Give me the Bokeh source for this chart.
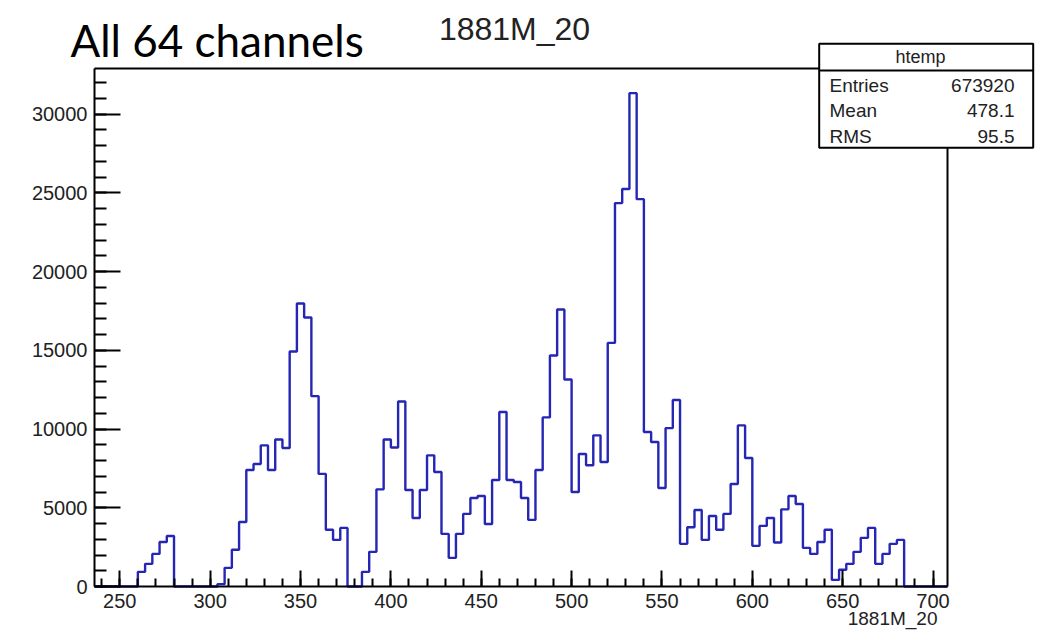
import numpy as np
from bokeh.plotting import figure
from bokeh.models import Range1d, SingleIntervalTicker
from bokeh.core.properties import value
from bokeh.embed import file_html
from bokeh.resources import INLINE

# ---------------- data ----------------
bin_start = 260
bin_width = 4
counts = [
    930, 1440, 2070, 2830, 3210,
    0, 0, 0, 0, 0, 0,
    150,
    1185, 2330, 4100, 7400, 7780, 8960, 7400, 9340, 8800,
    14920, 17970, 17080, 12090, 7150, 3600, 2960, 3720,
    0, 0,
    930, 2200, 6170, 9340,
    8830, 11750, 6130, 4350, 6130, 8330, 7270, 3340, 1820, 3340,
    4610, 5620, 5750, 3970, 6760, 11080, 6760, 6640, 5620, 4230,
    7400, 10740, 14670, 17590, 13150, 6000, 8410, 7700, 9600, 7910, 15470,
    24350, 25240, 31330, 24600,
    9810, 9180, 6260, 10060, 11840, 2710, 3760, 4860, 2960, 4480,
    3600, 4610, 6510, 10230, 8160, 2580, 3850, 4350, 2790, 4900,
    5750, 5240, 2450, 2070, 2830, 3600, 420, 1060, 1440, 2200, 3090, 3720, 1440, 2070, 2710, 2960,
]
x_lo, x_hi = 236, 708
title_text = "1881M_20"
overlay_text = "All 64 channels"
x_title = "1881M_20"
stats_name = "htemp"
stats_labels = ["Entries", "Mean", "RMS"]
stats_values = ["673920", "478.1", "95.5"]

# ---------------- layout ----------------
W, H = 1038, 632
FL, FR, FT, FB = 94, 947, 68, 586          # ROOT frame in pixels
y_top = 1.05 * max(counts)


def dx(px):
    return x_lo + (px - FL) * (x_hi - x_lo) / (FR - FL)


def dy(py):
    return (FB - py) * y_top / (FB - FT)


p = figure(width=W, height=H, output_backend="svg", toolbar_location=None,
           title=None,
           x_range=Range1d(dx(0), dx(W)), y_range=Range1d(dy(H), dy(0)),
           min_border_left=0, min_border_right=0, min_border_top=0,
           min_border_bottom=0)
p.outline_line_color = None
p.grid.visible = False
p.background_fill_color = "white"
p.border_fill_color = "white"

# histogram outline
edges = bin_start + bin_width * np.arange(len(counts) + 1)
xs = np.concatenate([[x_lo], edges, [x_hi]])
ys = np.concatenate([[0], counts, [0, 0]])
p.step(xs, ys, mode="after", line_color="#2626b4", line_width=2.4)

# frame top/right
p.line([x_lo, x_hi, x_hi], [y_top, y_top, 0], line_color="black", line_width=2)

# axes
font = "Liberation Sans"
tick_col = "#222222"
xa = p.xaxis[0]
xa.fixed_location = 0
xa.ticker = SingleIntervalTicker(interval=50, num_minor_ticks=5)
xa.bounds = (x_lo, x_hi)
xa.major_tick_in = 16
xa.major_tick_out = 0
xa.minor_tick_in = 8
xa.minor_tick_out = 0
ya = p.yaxis[0]
ya.fixed_location = x_lo
ya.ticker = SingleIntervalTicker(interval=5000, num_minor_ticks=5)
ya.bounds = (0, y_top)
ya.major_tick_in = 26
ya.major_tick_out = 0
ya.minor_tick_in = 12
ya.minor_tick_out = 0
for ax in (xa, ya):
    ax.axis_line_width = 2
    ax.axis_line_color = "black"
    ax.major_tick_line_width = 2
    ax.minor_tick_line_width = 2
    ax.major_tick_line_color = "black"
    ax.minor_tick_line_color = "black"
    ax.major_label_text_font = font
    ax.major_label_text_font_size = "20px"
    ax.major_label_text_color = tick_col
    ax.major_label_standoff = 7

# axis title (bottom-right)
p.text(x=[dx(937)], y=[dy(618)], text=[x_title], text_align="right",
       text_baseline="middle", text_font=value(font), text_font_size=value("19px"),
       text_color=tick_col)

# titles
p.text(x=[dx(514)], y=[dy(28)], text=[title_text], text_align="center",
       text_baseline="middle", text_font=value(font),
       text_font_size=value("32px"), text_color=tick_col)
p.text(x=[dx(70)], y=[dy(39)], text=[overlay_text], text_align="left",
       text_baseline="middle", text_font=value("Lato"), text_font_size=value("44px"),
       text_color="black")

# stats box
bl, br, bt, bb, bh = 818.7, 1032.7, 43.3, 147.3, 70
p.quad(left=[dx(bl)], right=[dx(br)], top=[dy(bt)], bottom=[dy(bb)],
       fill_color="white", line_color="black", line_width=2)
p.segment(x0=[dx(bl)], x1=[dx(br)], y0=[dy(bh)], y1=[dy(bh)], line_color="black", line_width=2)
p.text(x=[dx(920)], y=[dy(56.5)], text=[stats_name], text_align="center",
       text_baseline="middle", text_font=value(font), text_font_size=value("18px"),
       text_color=tick_col)
row_py = [84.7, 110.3, 136.3]
p.text(x=[dx(829)] * 3, y=[dy(v) for v in row_py], text=stats_labels, text_align="left",
       text_baseline="middle", text_font=value(font), text_font_size=value("19px"),
       text_color=tick_col)
p.text(x=[dx(1014)] * 3, y=[dy(v) for v in row_py], text=stats_values, text_align="right",
       text_baseline="middle", text_font=value(font), text_font_size=value("19px"),
       text_color=tick_col)

open("out.html", "w").write(file_html(p, INLINE))
